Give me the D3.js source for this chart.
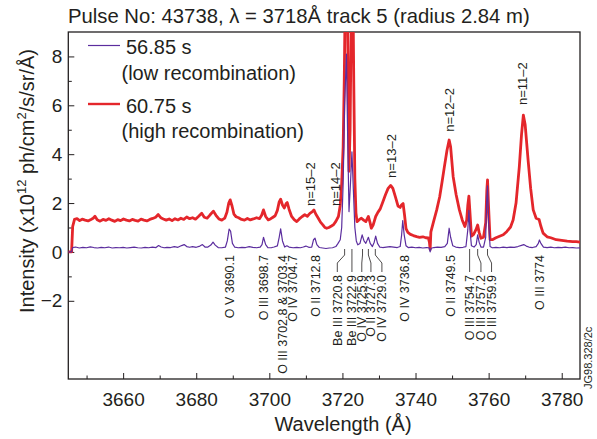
<!DOCTYPE html>
<html>
<head>
<meta charset="utf-8">
<script src="https://cdn.jsdelivr.net/npm/d3@7"></script>
<style>
  body { margin: 0; background: #fff; }
  svg text { font-family: 'Liberation Sans', Arial, Helvetica, sans-serif; fill: #231f20; }
</style>
</head>
<body>
<svg id="chart" width="597" height="439"></svg>
<script>
// 56.85 s spectrum (low recombination) [wavelength Å, intensity]
const lowRecomb = [
  [3645,0],[3645.9,0],[3646.2,0.18],[3647,0.2],[3648,0.16],[3649,0.19],[3650,0.17],[3651,0.21],
  [3652,0.18],[3653,0.16],[3654,0.19],[3655,0.17],[3656,0.2],[3657,0.16],[3658,0.18],[3659,0.17],
  [3660,0.19],[3661,0.16],[3662,0.18],[3663,0.2],[3664,0.17],[3665,0.16],[3666,0.19],[3667,0.17],
  [3668,0.2],[3669,0.18],[3669.7,0.26],[3670.4,0.2],[3671.2,0.17],[3672,0.19],[3673,0.18],[3674,0.22],
  [3675,0.19],[3676,0.26],[3676.7,0.3],[3677.4,0.22],[3678.2,0.19],[3679,0.22],[3680,0.19],[3681,0.24],
  [3681.7,0.3],[3682.4,0.2],[3683.2,0.2],[3684,0.28],[3684.6,0.4],[3685.2,0.28],[3686,0.18],[3687,0.17],
  [3688,0.2],[3688.5,0.45],[3689,0.93],[3689.4,0.85],[3689.9,0.35],[3690.5,0.2],[3691.5,0.17],[3692.5,0.19],
  [3693.5,0.18],[3694.5,0.22],[3695.5,0.19],[3696.5,0.17],[3697.5,0.2],[3698,0.3],[3698.4,0.6],[3699,0.3],
  [3699.6,0.18],[3700.5,0.17],[3701.3,0.2],[3702.2,0.25],[3702.7,0.6],[3703.1,0.94],[3703.6,0.45],[3704.2,0.2],
  [3704.8,0.25],[3705.4,0.2],[3706.5,0.17],[3707.5,0.19],[3708.5,0.17],[3709.3,0.2],[3710,0.24],[3710.8,0.19],
  [3711.6,0.2],[3712.1,0.5],[3712.5,0.56],[3713,0.3],[3713.7,0.18],[3714.6,0.16],[3715.5,0.14],[3716.4,0.16],
  [3717.3,0.17],[3718.2,0.22],[3718.8,0.35],[3719.4,0.5],[3719.8,1.0],[3720.2,2.8],[3720.6,6],[3721.1,8.1],
  [3721.4,5],[3721.8,1.65],[3722.2,2.8],[3722.6,4.1],[3723,2.5],[3723.4,1.0],[3723.8,0.45],[3724.2,0.29],
  [3724.8,0.35],[3725.4,0.7],[3725.9,0.45],[3726.4,0.35],[3727.1,0.6],[3727.6,0.35],[3728.2,0.22],[3728.7,0.4],
  [3729.1,0.65],[3729.6,0.35],[3730.2,0.2],[3731,0.18],[3732,0.2],[3733,0.22],[3734,0.2],[3735,0.18],
  [3735.8,0.22],[3736.2,0.7],[3736.5,1.28],[3736.9,0.7],[3737.4,0.25],[3738,0.18],[3739,0.2],[3740,0.17],
  [3741,0.19],[3742,0.16],[3743,0.18],[3743.7,0.17],[3744,0.0],[3744.3,0.15],[3745,0.18],[3746,0.2],
  [3747,0.19],[3748,0.22],[3748.7,0.35],[3749.2,0.97],[3749.6,0.6],[3750.2,0.25],[3751,0.2],[3752,0.18],
  [3753,0.19],[3753.8,0.22],[3754.3,0.9],[3754.6,1.7],[3754.9,0.9],[3755.3,0.25],[3756,0.2],[3756.6,0.3],
  [3757,0.7],[3757.4,0.4],[3757.9,0.2],[3758.6,0.2],[3759.2,0.6],[3759.5,2.2],[3759.7,2.7],[3760,1.2],
  [3760.4,0.22],[3761,0.17],[3762,0.19],[3763,0.17],[3764,0.2],[3765,0.18],[3766,0.2],[3767,0.19],
  [3768,0.22],[3769,0.27],[3769.6,0.3],[3770.3,0.24],[3771,0.2],[3772,0.18],[3773,0.22],[3773.6,0.35],
  [3773.9,0.49],[3774.3,0.35],[3775,0.2],[3776,0.18],[3777,0.2],[3778,0.17],[3779,0.19],[3780,0.18],
  [3781,0.2],[3782,0.17],[3783,0.18],[3784,0.16],[3785,0.17]
]

// 60.75 s spectrum (high recombination)
const highRecomb = [
  [3645,0],[3645.9,0],[3646.2,1.05],[3646.7,1.33],[3647.4,1.36],[3648.1,1.28],[3648.8,1.34],[3649.6,1.3],
  [3650.4,1.27],[3651.2,1.33],[3651.8,1.38],[3652.3,1.46],[3652.9,1.32],[3653.7,1.26],[3654.5,1.33],[3655.3,1.29],
  [3656.1,1.36],[3656.9,1.3],[3657.7,1.25],[3658.5,1.32],[3659.3,1.28],[3660.1,1.35],[3660.9,1.3],[3661.7,1.27],
  [3662.5,1.33],[3663.3,1.29],[3664.1,1.26],[3664.9,1.34],[3665.7,1.3],[3666.5,1.27],[3667.3,1.33],[3668.1,1.37],
  [3668.9,1.42],[3669.6,1.53],[3670.3,1.4],[3671,1.35],[3671.8,1.3],[3672.6,1.35],[3673.4,1.28],[3674.2,1.36],
  [3675,1.31],[3675.8,1.38],[3676.6,1.33],[3677.4,1.43],[3678.2,1.36],[3679,1.4],[3679.8,1.34],[3680.6,1.45],
  [3681.5,1.58],[3682.2,1.42],[3683,1.38],[3683.8,1.52],[3684.7,1.67],[3685.4,1.5],[3686.2,1.35],[3687,1.3],
  [3687.8,1.38],[3688.4,1.62],[3688.9,2.0],[3689.3,2.13],[3689.8,1.88],[3690.3,1.55],[3690.9,1.44],[3691.6,1.4],
  [3692.4,1.33],[3693.2,1.3],[3694,1.37],[3694.8,1.31],[3695.6,1.35],[3696.5,1.4],[3697.3,1.36],[3697.9,1.5],
  [3698.4,1.72],[3699,1.45],[3699.7,1.31],[3700.4,1.36],[3701,1.42],[3701.6,1.48],[3702.2,1.7],[3702.7,2.05],
  [3703.1,2.16],[3703.6,1.92],[3704.1,1.8],[3704.6,1.98],[3704.9,2.02],[3705.4,1.75],[3706.1,1.45],[3706.8,1.32],
  [3707.5,1.24],[3708.2,1.35],[3709,1.45],[3709.7,1.52],[3710.4,1.46],[3711.1,1.58],[3711.7,1.64],[3712.2,1.72],
  [3712.7,1.55],[3713.4,1.38],[3714,1.22],[3714.7,1.1],[3715.2,1.0],[3715.7,0.97],[3716.3,1.0],[3717,1.06],
  [3717.6,1.12],[3718.2,1.25],[3718.9,1.45],[3719.4,1.9],[3719.8,2.8],[3720.2,4.3],[3720.5,7],[3720.8,11],
  [3721.2,12],[3721.5,8],[3721.8,3.3],[3722.1,5],[3722.4,9.5],[3722.8,12],[3723.1,7],[3723.4,3],
  [3723.7,1.6],[3724,1.24],[3724.6,1.32],[3725.2,1.38],[3725.8,1.3],[3726.4,1.24],[3727.1,1.45],[3727.6,1.18],
  [3727.9,0.97],[3728.4,1.1],[3729.1,1.45],[3729.7,1.62],[3730.3,1.75],[3731,2.02],[3731.8,2.35],[3732.5,2.6],
  [3733.2,2.72],[3733.8,2.6],[3734.5,2.25],[3735.2,1.88],[3735.8,1.82],[3736.2,1.93],[3736.6,1.98],[3737,1.5],
  [3737.4,0.95],[3737.9,0.8],[3738.6,0.72],[3739.4,0.67],[3740.3,0.63],[3741.1,0.6],[3742,0.62],[3742.8,0.58],
  [3743.5,0.57],[3743.8,0.4],[3744,0.1],[3744.2,0.82],[3744.9,1.22],[3745.8,1.72],[3746.6,2.25],[3747.3,2.9],
  [3747.9,3.49],[3748.6,4.15],[3749.2,4.58],[3749.6,4.3],[3750.3,3.08],[3751.1,2.35],[3752,1.72],[3752.8,1.3],
  [3753.5,1.04],[3754,1.3],[3754.3,1.9],[3754.6,2.28],[3754.9,1.6],[3755.3,0.65],[3755.9,0.72],[3756.5,0.9],
  [3757,1.1],[3757.4,0.8],[3757.9,0.56],[3758.6,0.6],[3759.2,1.2],[3759.5,2.5],[3759.7,2.95],[3760,1.8],
  [3760.4,0.5],[3761,0.5],[3762,0.58],[3763,0.64],[3764,0.7],[3765,0.84],[3766,1.02],[3766.7,1.31],
  [3767.5,2.0],[3768.4,3.49],[3769,4.8],[3769.5,5.6],[3770,5.2],[3770.8,3.76],[3771.5,2.6],[3772.2,1.72],
  [3773,1.38],[3773.8,1.33],[3774.3,1.05],[3774.9,0.77],[3776,0.62],[3777,0.58],[3778.5,0.5],[3780,0.47],
  [3781.5,0.44],[3783,0.42],[3784,0.42],[3785,0.4]
]

const seriesTimes = ['56.85 s', '60.75 s']
const seriesNotes = ['(low recombination)', '(high recombination)']

// impurity lines: name, wavelength of the peak, wavelength where the text column sits, cluster (leader line)
const lineNames = ['O V 3690.1', 'O III 3698.7', 'O III 3702.8 & 3703.4', 'O IV 3704.7', 'O II 3712.8',
  'Be III 3720.8', 'Be III 3722.9', 'O IV 3725.9', 'O II 3727.3', 'O IV 3729.0', 'O IV 3736.8',
  'O II 3749.5', 'O III 3754.7', 'O III 3757.2', 'O III 3759.9', 'O III 3774']
const linePeaks = [3689.0, 3698.3, 3703.6, 3706.3, 3712.7, 3720.6, 3722.6, 3725.5, 3727.1, 3729.0,
  3736.9, 3749.5, 3754.8, 3757.0, 3759.7, 3774.0]
const lineTextAt = [3689.0, 3698.3, 3703.6, 3706.3, 3712.7, 3718.6, 3722.6, 3725.3, 3727.8, 3730.8,
  3736.9, 3749.5, 3754.8, 3757.9, 3760.8, 3774.0]
const lineCluster = [0, 0, 0, 0, 0, 1, 1, 1, 1, 1, 0, 0, 1, 1, 1, 0]

// hydrogen Balmer series labels
const balmerNames = ['n=15\u20132', 'n=14\u20132', 'n=13\u20132', 'n=12\u20132', 'n=11\u20132']
const balmerAt = [3711.3, 3718.0, 3733.3, 3749.2, 3769.2]

const xTicks = [3660, 3680, 3700, 3720, 3740, 3760, 3780]
const xMinor = [3650, 3670, 3690, 3710, 3730, 3750, 3770]
const yTicks = [-2, 0, 2, 4, 6, 8]
const yMinor = [-1, 1, 3, 5, 7]

// layout
const PLOT = { left: 68.3, right: 580, top: 32, bottom: 379 }
const BALMER_BASE = [1.88, 1.88, 3.03, 4.92, 6.01]
const COLORS = ['#5b2d9e', '#e4262b']
const INK = '#231f20'

const svg = d3.select('#chart')
const x = d3.scaleLinear().domain([3645, 3785]).range([PLOT.left, PLOT.right])
const y = d3.scaleLinear().domain([-5.2, 9]).range([PLOT.bottom, PLOT.top])

// Title
svg.append('text')
  .attr('x', 68)
  .attr('y', 23)
  .style('font-size', '20.3px')
  .text('Pulse No: 43738, \u03bb = 3718\u00c5 track 5 (radius 2.84 m)')

svg.append('defs').append('clipPath')
  .attr('id', 'plot-clip')
  .append('rect')
  .attr('x', PLOT.left)
  .attr('y', PLOT.top)
  .attr('width', PLOT.right - PLOT.left)
  .attr('height', PLOT.bottom - PLOT.top)

// Axes (ticks point inwards)
svg.append('g')
  .attr('transform', 'translate(0,' + PLOT.bottom + ')')
  .call(d3.axisBottom(x).tickValues(xTicks).tickSize(-6).tickPadding(13.5).tickFormat(d3.format('d')))
svg.append('g')
  .attr('transform', 'translate(0,' + PLOT.bottom + ')')
  .call(d3.axisBottom(x).tickValues(xMinor).tickSize(-3.5).tickFormat(''))
svg.append('g')
  .attr('transform', 'translate(' + PLOT.left + ',0)')
  .call(d3.axisLeft(y).tickValues(yTicks).tickSize(-6).tickPadding(6))
svg.append('g')
  .attr('transform', 'translate(' + PLOT.left + ',0)')
  .call(d3.axisLeft(y).tickValues(yMinor).tickSize(-3.5).tickFormat(''))

svg.selectAll('.domain').remove()
svg.selectAll('.tick line').attr('stroke', INK).attr('stroke-width', 1)
svg.selectAll('.tick text')
  .style('font-size', '19px')
  .style('font-family', "'Liberation Sans', Arial, sans-serif")
  .attr('fill', INK)

// Frame
svg.append('rect')
  .attr('x', PLOT.left)
  .attr('y', PLOT.top)
  .attr('width', PLOT.right - PLOT.left)
  .attr('height', PLOT.bottom - PLOT.top)
  .attr('fill', 'none')
  .attr('stroke', INK)
  .attr('stroke-width', 1.3)

// Axis titles
svg.append('text')
  .attr('x', 343)
  .attr('y', 431)
  .attr('text-anchor', 'middle')
  .style('font-size', '20px')
  .text('Wavelength (\u00c5)')

const yTitle = svg.append('text')
  .attr('transform', 'translate(33.5,181) rotate(-90)')
  .attr('text-anchor', 'middle')
  .style('font-size', '20px')
yTitle.append('tspan').text('Intensity (x10')
yTitle.append('tspan').attr('dy', -8).style('font-size', '13px').text('12')
yTitle.append('tspan').attr('dy', 8).text(' ph/cm')
yTitle.append('tspan').attr('dy', -8).style('font-size', '13px').text('2')
yTitle.append('tspan').attr('dy', 8).text('/s/sr/\u00c5)')

// Spectra
const line = d3.line()
  .x(d => x(d[0]))
  .y(d => y(d[1]))

const plot = svg.append('g').attr('clip-path', 'url(#plot-clip)')
plot.append('path')
  .datum(highRecomb)
  .attr('d', line)
  .attr('fill', 'none')
  .attr('stroke', COLORS[1])
  .attr('stroke-width', 2.8)
  .attr('stroke-linejoin', 'round')
plot.append('path')
  .datum(lowRecomb)
  .attr('d', line)
  .attr('fill', 'none')
  .attr('stroke', COLORS[0])
  .attr('stroke-width', 1.2)
  .attr('stroke-linejoin', 'round')

// Line identification labels
const LEAD_TOP = 249
const LEAD_KNEE = 255
const LEAD_BEND = 263
const LEAD_END = 272
const labels = svg.append('g')
lineNames.forEach((name, i) => {
  const px = x(linePeaks[i])
  const tx = x(lineTextAt[i])
  const top = lineCluster[i] ? 275 : 255
  if (lineCluster[i]) {
    labels.append('path')
      .attr('d', 'M' + px + ',' + LEAD_TOP + 'V' + LEAD_KNEE + 'L' + tx + ',' + LEAD_BEND + 'V' + LEAD_END)
      .attr('fill', 'none')
      .attr('stroke', INK)
      .attr('stroke-width', 0.8)
  }
  labels.append('text')
    .attr('transform', 'translate(' + tx + ',' + top + ') rotate(-90)')
    .attr('text-anchor', 'end')
    .attr('dy', '0.36em')
    .style('font-size', '12.5px')
    .text(name)
})

// Balmer labels
balmerNames.forEach((name, i) => {
  svg.append('text')
    .attr('transform', 'translate(' + x(balmerAt[i]) + ',' + y(BALMER_BASE[i]) + ') rotate(-90)')
    .attr('dy', '0.36em')
    .style('font-size', '13px')
    .text(name)
})

// Legend
const legend = svg.append('g')
seriesTimes.forEach((t, i) => {
  const ly = i === 0 ? 45.5 : 104
  legend.append('line')
    .attr('x1', 88).attr('x2', 120)
    .attr('y1', ly).attr('y2', ly)
    .attr('stroke', COLORS[i])
    .attr('stroke-width', i === 0 ? 1.2 : 2.4)
  legend.append('text')
    .attr('x', 126)
    .attr('y', ly + 8.5)
    .style('font-size', '20px')
    .text(t)
  legend.append('text')
    .attr('x', 121.5)
    .attr('y', ly + 34)
    .style('font-size', '20px')
    .text(seriesNotes[i])
})

// Figure reference
svg.append('text')
  .attr('transform', 'translate(588,389) rotate(-90)')
  .attr('dy', '0.36em')
  .style('font-size', '11px')
  .text('JG98.328/2c')
</script>
</body>
</html>
